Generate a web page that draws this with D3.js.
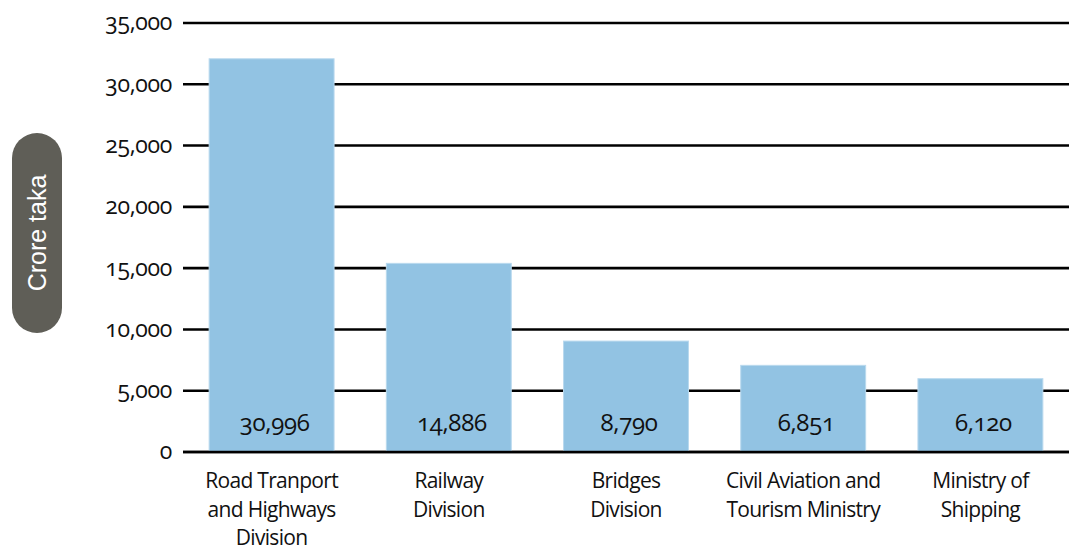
<!DOCTYPE html>
<html>
<head>
<meta charset="utf-8">
<script src="https://cdn.jsdelivr.net/npm/d3@7"></script>
<style>
  html, body { margin: 0; padding: 0; background: #fff; }
  svg { display: block; }
  .tick-label, .cat-label, .val-label {
    font-family: "Open Sans", Lato, sans-serif;
    font-variant-numeric: oldstyle-nums;
    fill: #111;
  }
</style>
</head>
<body>
<svg id="chart" width="1069" height="550"></svg>
<script>
// Data
const categories = [
  ["Road Tranport", "and Highways", "Division"],
  ["Railway", "Division"],
  ["Bridges", "Division"],
  ["Civil Aviation and", "Tourism Ministry"],
  ["Ministry of", "Shipping"]
];
const barValues = [32080, 15390, 9050, 7070, 5980];   // bar heights as drawn
const valueLabels = ["30,996", "14,886", "8,790", "6,851", "6,120"];
const yTicks = [0, 5000, 10000, 15000, 20000, 25000, 30000, 35000];
const yTitle = "Crore taka";

const svg = d3.select("#chart");
const mLeft = 183, mRight = 1069, mTop = 23, mBottom = 452;

const keys = categories.map((c, i) => i);
const x = d3.scaleBand().domain(keys).range([mLeft, mRight])
  .paddingInner(0.295).paddingOuter(0.1475);
const y = d3.scaleLinear().domain([0, 35000]).range([mBottom, mTop]);

// gridlines
svg.append("g").selectAll("line").data(yTicks).join("line")
  .attr("x1", mLeft).attr("x2", mRight)
  .attr("y1", d => y(d)).attr("y2", d => y(d))
  .attr("stroke", "#000").attr("stroke-width", 2.6);

// y tick labels
svg.append("g").selectAll("text").data(yTicks).join("text")
  .attr("class", "tick-label")
  .attr("x", 172).attr("y", d => y(d))
  .attr("dy", "0.32em")
  .attr("text-anchor", "end")
  .attr("font-size", 23)
  .attr("letter-spacing", "-0.3")
  .text(d => d3.format(",")(d));

// bars
svg.append("g").selectAll("rect").data(barValues).join("rect")
  .attr("x", (d, i) => x(i))
  .attr("width", x.bandwidth())
  .attr("y", d => y(d))
  .attr("height", d => y(0) - y(d))
  .attr("fill", "#92c3e3")
  .attr("stroke", "#b9d9ee").attr("stroke-width", 1);

// baseline redrawn on top
svg.append("line")
  .attr("x1", mLeft).attr("x2", mRight)
  .attr("y1", y(0)).attr("y2", y(0))
  .attr("stroke", "#000").attr("stroke-width", 2.6);

// value labels
svg.append("g").selectAll("text").data(valueLabels).join("text")
  .attr("class", "val-label")
  .attr("x", (d, i) => x(i) + x.bandwidth() / 2 + 3)
  .attr("y", 431)
  .attr("text-anchor", "middle")
  .attr("font-size", 24)
  .attr("letter-spacing", "-0.3")
  .text(d => d);

// category labels
const cat = svg.append("g").selectAll("text").data(categories).join("text")
  .attr("class", "cat-label")
  .attr("text-anchor", "middle")
  .attr("font-size", 21)
  .attr("letter-spacing", "-0.7");
cat.each(function(lines, i) {
  const t = d3.select(this);
  lines.forEach((ln, j) => {
    t.append("tspan")
      .attr("x", x(i) + x.bandwidth() / 2)
      .attr("y", 488 + j * 28.5)
      .text(ln);
  });
});

// y title pill
const pill = svg.append("g");
pill.append("rect")
  .attr("x", 12).attr("y", 133).attr("width", 50).attr("height", 200)
  .attr("rx", 25).attr("ry", 25)
  .attr("fill", "#5f5e57");
pill.append("text")
  .attr("transform", "translate(37,233) rotate(-90)")
  .attr("text-anchor", "middle")
  .attr("dy", "0.35em")
  .attr("font-family", "'Liberation Sans', Arial, sans-serif")
  .attr("font-size", 25)
  .attr("fill", "#fff")
  .text(yTitle);
</script>
</body>
</html>
